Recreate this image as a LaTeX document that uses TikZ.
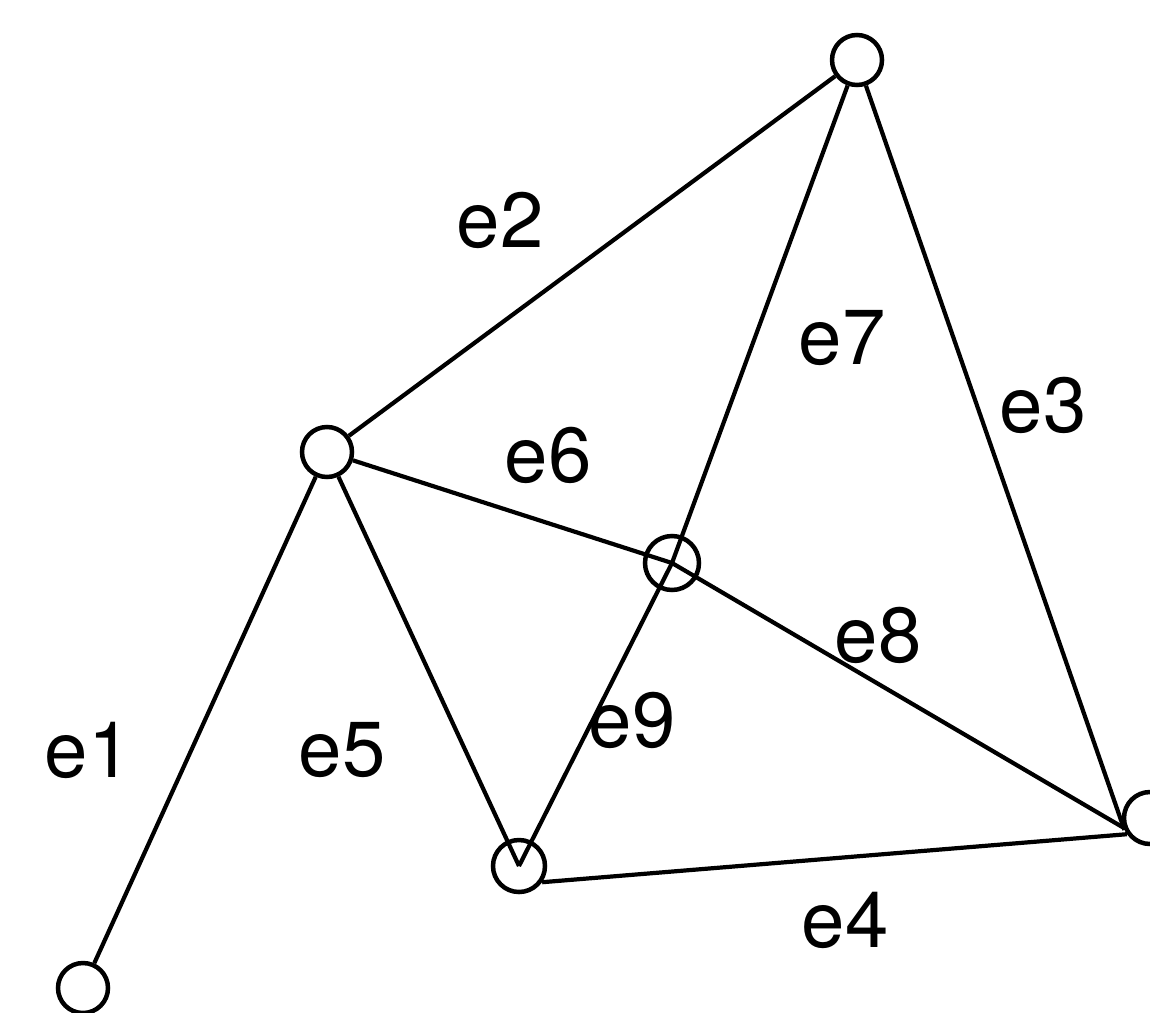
\documentclass[tikz,border=0pt]{standalone}
\usepackage{fontspec}
\setmainfont{TeX Gyre Heros}
\begin{document}
\begin{tikzpicture}[x=1pt,y=-1pt,
  vertex/.style={draw,circle,line width=4.5pt,minimum size=50pt,inner sep=0pt},
  edge/.style={line width=4.2pt},
  elabel/.style={font=\fontsize{78}{78}\selectfont,inner sep=0pt}]
\useasboundingbox (0,0) rectangle (1150,1012);
\node[vertex] (A) at (83,988) {};
\node[vertex] (B) at (327,452) {};
\node[vertex] (C) at (857,60) {};
\node[vertex,minimum size=54pt] (D) at (672,563) {};
\node[vertex,minimum size=52pt] (E) at (519,866) {};
\node[vertex,minimum size=52pt] (F) at (1150,818) {};
\draw[edge] (A) -- (B);
\draw[edge] (B) -- (C);
\draw[edge] (C) -- (F.205);
\draw[edge] (E.-35) -- (F.215);
\draw[edge] (B) -- (E.center);
\draw[edge] (B) -- (D.center);
\draw[edge] (C) -- (D.center);
\draw[edge] (D.center) -- (F.200);
\draw[edge] (D.center) -- (E.center);
\node[elabel] (l1) at (88,750) {e1};
\node[elabel] (l2) at (500,220) {e2};
\node[elabel] (l3) at (1043,405) {e3};
\node[elabel] (l4) at (845,920) {e4};
\node[elabel] (l5) at (342,750) {e5};
\node[elabel] (l6) at (548,455) {e6};
\node[elabel] (l7) at (842,338) {e7};
\node[elabel] (l8) at (878,635) {e8};
\node[elabel] (l9) at (632,720) {e9};
\end{tikzpicture}
\end{document}
